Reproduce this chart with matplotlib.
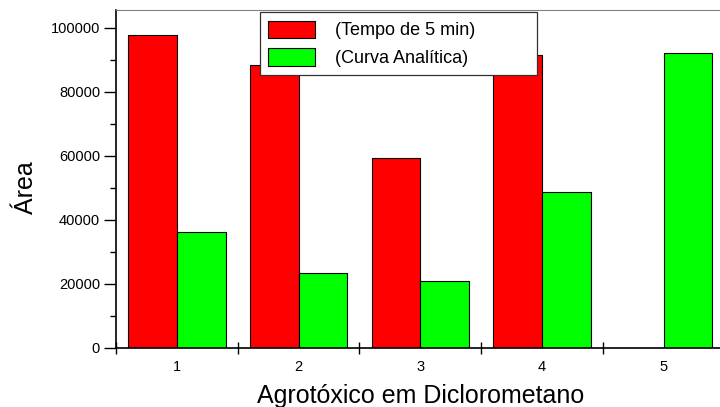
import matplotlib
matplotlib.use("Agg")
import numpy as np
from matplotlib import pyplot as plt
from matplotlib.ticker import MultipleLocator

# amostras e áreas dos picos
agrotoxicos = [1, 2, 3, 4, 5]
tempo_5min = [97800, 88300, 59300, 91500, 0]
curva_analitica = [36300, 23400, 20800, 48600, 92300]
rotulos = ['(Tempo de 5 min)', '(Curva Analítica)']

plt.rcParams['font.family'] = ['Liberation Sans', 'DejaVu Sans']

fig = plt.figure(figsize=(7.2, 4.07), dpi=100)
ax = fig.add_axes([0.1611, 0.1457, 0.845, 0.8297])

x = np.array(agrotoxicos)
largura = 0.4
ax.bar(x - largura / 2, tempo_5min, largura, color='#ff0000', edgecolor='black', linewidth=0.8, label=rotulos[0])
ax.bar(x + largura / 2, curva_analitica, largura, color='#00ff00', edgecolor='black', linewidth=0.8, label=rotulos[1])

ax.set_xlim(0.5, 5.5)
ax.set_ylim(0, 105600)

# ticks principais nos limites de cada grupo, rótulos no centro
ax.set_xticks(np.arange(0.5, 6, 1))
ax.set_xticklabels([])
ax.set_xticks(x, minor=True)
ax.set_xticklabels([str(a) for a in agrotoxicos], minor=True)
ax.tick_params(axis='x', which='major', direction='inout', length=8, width=1)
ax.tick_params(axis='x', which='minor', length=0, pad=9, labelsize=10.5)

ax.yaxis.set_major_locator(MultipleLocator(20000))
ax.yaxis.set_minor_locator(MultipleLocator(10000))
ax.tick_params(axis='y', which='major', direction='out', length=8.5, width=1, labelsize=10.5, pad=3)
ax.tick_params(axis='y', which='minor', direction='out', length=4.3, width=1)

ax.spines['left'].set_linewidth(1.2)
ax.spines['bottom'].set_linewidth(1.2)
ax.spines['top'].set_color('#808080')
ax.spines['right'].set_visible(False)

ax.set_xlabel('Agrotóxico em Diclorometano', fontsize=18, labelpad=7)
ax.set_ylabel('Área', fontsize=18)
ax.yaxis.set_label_coords(-0.128, 0.473)

leg = ax.legend(loc='upper left', bbox_to_anchor=(0.2368, 0.993, 0.4556, 0.0), mode='expand',
                fontsize=13, frameon=True, fancybox=False, framealpha=1, borderaxespad=0,
                handlelength=2.6, handleheight=1.1, handletextpad=1.1, labelspacing=0.5,
                borderpad=0.45)
leg.get_frame().set_edgecolor('#333333')
leg.get_frame().set_linewidth(0.9)

fig.savefig('out.png', dpi=100)
